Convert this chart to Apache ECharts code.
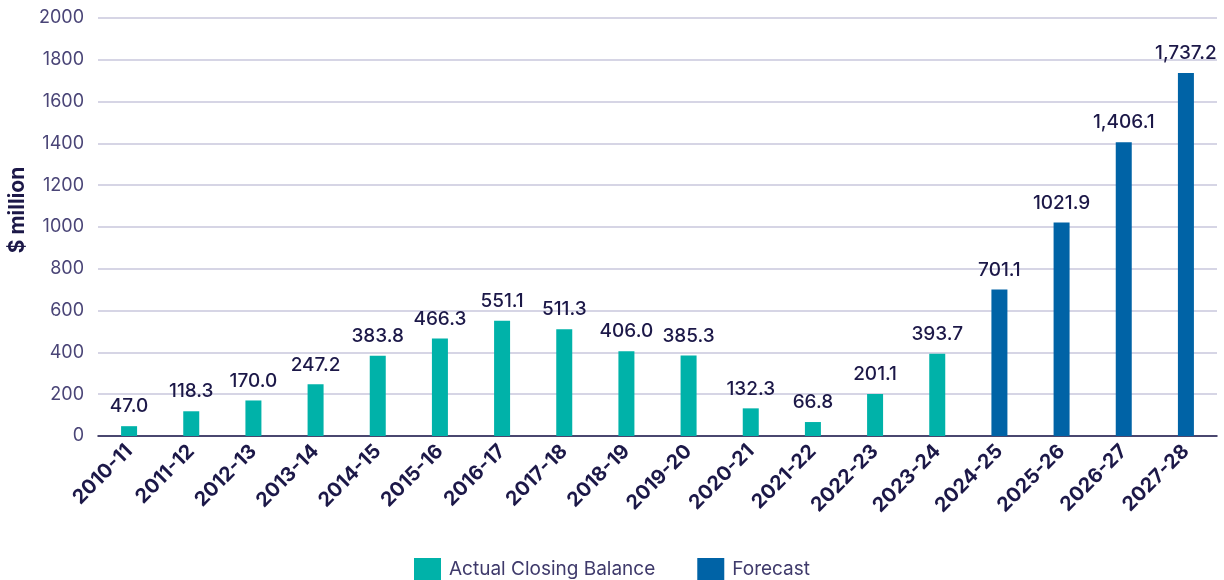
<!DOCTYPE html>
<html><head><meta charset="utf-8">
<script src="https://cdn.jsdelivr.net/npm/echarts@6/dist/echarts.min.js"></script>
<style>html,body{margin:0;padding:0;background:#fff}#c{width:1224px;height:580px}</style>
</head><body><div id="c"></div>
<script>
const categories = ['2010-11','2011-12','2012-13','2013-14','2014-15','2015-16','2016-17','2017-18','2018-19','2019-20','2020-21','2021-22','2022-23','2023-24','2024-25','2025-26','2026-27','2027-28'];
const actual = [47.0,118.3,170.0,247.2,383.8,466.3,551.1,511.3,406.0,385.3,132.3,66.8,201.1,393.7,null,null,null,null];
const forecast = [null,null,null,null,null,null,null,null,null,null,null,null,null,null,701.1,1021.9,1406.1,1737.2];
const labels = ['47.0','118.3','170.0','247.2','383.8','466.3','551.1','511.3','406.0','385.3','132.3','66.8','201.1','393.7','701.1','1021.9','1,406.1','1,737.2'];
const yTicks = [0,200,400,600,800,1000,1200,1400,1600,1800,2000];

const font = 'Inter, "Noto Sans", sans-serif';
const navy = '#1c1848';
const lab = {show:true, position:'top', distance:10, color:navy, fontSize:19, fontFamily:font, fontWeight:500,
  formatter: p => labels[p.dataIndex]};
const chart = echarts.init(document.getElementById('c'), null, {renderer:'canvas'});
chart.setOption({
  animation:false,
  grid:{left:98, right:7, top:18, bottom:144, containLabel:false, outerBoundsMode:'none'},
  legend:{bottom:-6, left:'center', icon:'rect', itemWidth:27, itemHeight:23, itemGap:42,
    textStyle:{color:'#3f3a6b', fontSize:19, fontFamily:font, padding:[0,0,0,3]},
    data:['Actual Closing Balance','Forecast']},
  xAxis:{type:'category', data:categories,
    axisLine:{lineStyle:{color:navy, width:1.5}}, axisTick:{show:false},
    axisLabel:{rotate:45, color:navy, fontWeight:'bold', fontSize:20, fontFamily:font, margin:12, interval:0}},
  yAxis:{type:'value', min:0, max:2000, interval:200,
    name:'$ million', nameLocation:'middle', nameGap:70, nameRotate:90,
    nameTextStyle:{color:navy, fontWeight:'bold', fontSize:21, fontFamily:font, padding:[0,0,0,34]},
    axisLine:{show:false}, axisTick:{show:false},
    axisLabel:{color:'#4a4577', fontSize:18, fontFamily:font, margin:14,
      formatter: v => yTicks.includes(v) ? String(v) : ''},
    splitLine:{lineStyle:{color:'#c9c7dd', width:1.5}}},
  series:[
    {name:'Actual Closing Balance', type:'bar', stack:'s', data:actual, barWidth:16,
      itemStyle:{color:'#00b2a9'}, label:lab},
    {name:'Forecast', type:'bar', stack:'s', data:forecast, barWidth:16,
      itemStyle:{color:'#0063a6'}, label:lab}
  ]
});
</script></body></html>
